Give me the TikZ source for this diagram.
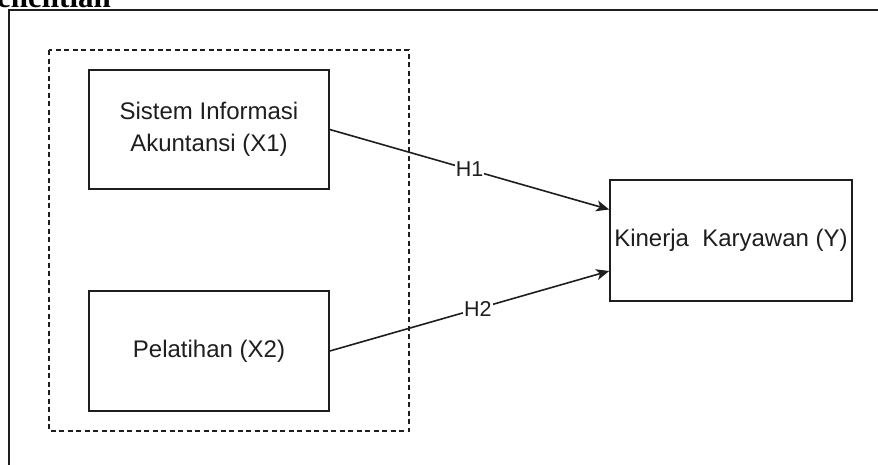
\documentclass[tikz,border=0pt]{standalone}
\usepackage{fontspec}
\setmainfont{Liberation Serif}
\newfontfamily\arialf{Liberation Sans}
\usetikzlibrary{arrows.meta,calc}
\definecolor{ink}{HTML}{1E1E1E}
\begin{document}
\begin{tikzpicture}[x=1pt,y=-1pt,
  varbox/.style={draw=ink,line width=1.6pt,rectangle,align=center,text=ink,
    font=\arialf\fontsize{24}{32}\selectfont,inner sep=0pt},
  hyparrow/.style={draw=ink,line width=1.6pt,-{Stealth[length=13pt,width=11pt,inset=3.5pt]}},
  hlabel/.style={fill=white,text=ink,font=\arialf\fontsize{21.5}{25}\selectfont,inner sep=1pt}]
\useasboundingbox (0,0) rectangle (878,464);
\clip (0,0) rectangle (878,464);
\fill[white] (0,0) rectangle (878,464);
% title fragment
\node[anchor=base west,inner sep=0pt,font=\bfseries\fontsize{31}{33}\selectfont] (title) at (-3,7) {enelitian};
% outer frame
\draw[ink,line width=1.8pt] (9,500) -- (9,10) -- (900,10);
% dashed group
\draw[ink,line width=1.5pt,dash pattern=on 5pt off 3.5pt] (49,50) rectangle (409,431);
% boxes
\node[varbox,minimum width=240pt,minimum height=119pt] (x1) at (209,129.5) {Sistem Informasi\\Akuntansi (X1)};
\node[varbox,minimum width=240pt,minimum height=120pt] (x2) at (209,351) {Pelatihan (X2)};
\node[varbox,minimum width=242pt,minimum height=121pt] (y) at (731,240.5) {Kinerja\ \ Karyawan (Y)};
% arrows
\draw[hyparrow] (x1.east) -- node[hlabel,pos=0.5] (h1) {H1} ($(y.west)+(0,-31)$);
\draw[hyparrow] (x2.east) -- node[hlabel,pos=0.53] (h2) {H2} ($(y.west)+(0,30.5)$);
\end{tikzpicture}
\end{document}
